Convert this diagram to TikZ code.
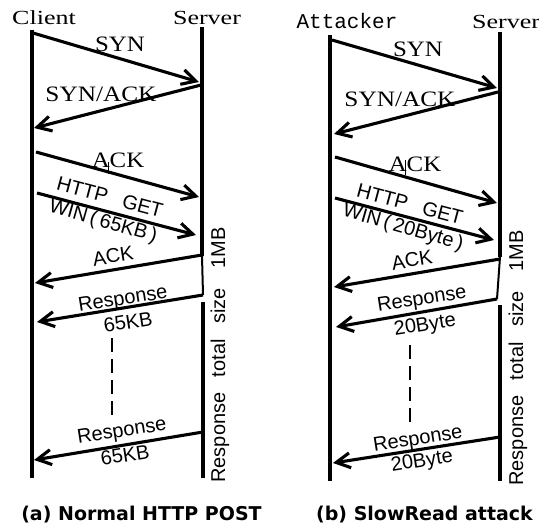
\documentclass[tikz,border=0pt]{standalone}
\usepackage{fontspec}
\setmainfont{Liberation Serif}
\setsansfont{Liberation Sans}
\setmonofont{Liberation Mono}
\newfontfamily\capfont{DejaVu Sans}
\usetikzlibrary{arrows.meta}

\begin{document}
\begin{tikzpicture}[x=1pt,y=-1pt,
  lifeline/.style={line width=4.4pt},
  thinlife/.style={line width=2pt},
  msg/.style={line width=3.1pt,-{Straight Barb[length=14pt,width=15pt]}},
  gapline/.style={line width=2.8pt,dash pattern=on 14pt off 7pt},
  tick/.style={line width=0.8pt},
  head/.style={font=\fontsize{20}{20}\selectfont\rmfamily,inner sep=0pt,anchor=base},
  monohead/.style={font=\fontsize{21}{21}\selectfont\ttfamily,inner sep=0pt,anchor=base},
  serlab/.style={font=\fontsize{22}{22}\selectfont\rmfamily,inner sep=0pt},
  sanlab/.style={font=\fontsize{20}{20}\selectfont\sffamily,inner sep=0pt},
  sidelab/.style={font=\fontsize{20}{20}\selectfont\sffamily,inner sep=0pt,rotate=90},
  caption/.style={font=\fontsize{19}{19}\selectfont\capfont\bfseries,inner sep=0pt}
]
\useasboundingbox (0,0) rectangle (539,527);
\fill[white] (0,0) rectangle (539,527);

% ---------- (a) normal exchange ----------
\node[head] (client) at (44,25) {\scalebox{1.3}[1]{Client}};
\node[head] (serverA) at (207,25) {\scalebox{1.3}[1]{Server}};

\coordinate (cl-top) at (32,30);   \coordinate (cl-bot) at (32,478);
\coordinate (sa-top) at (202,27);  \coordinate (sa-m1) at (202,256);
\coordinate (sa-m2) at (203,295);
\coordinate (sa-m3) at (203,302); \coordinate (sa-bot) at (203,478);
\draw[lifeline] (cl-top) -- (cl-bot);
\draw[lifeline] (sa-top) -- (sa-m1);
\draw[thinlife] (sa-m1) -- (sa-m2);
\draw[lifeline] (sa-m3) -- (sa-bot);

\coordinate (a1s) at (33,33);   \coordinate (a1e) at (199,82);
\coordinate (a2s) at (201,85);  \coordinate (a2e) at (34,128);
\coordinate (a3s) at (36,152);  \coordinate (a3e) at (199,197);
\coordinate (a4s) at (37,193);  \coordinate (a4e) at (196,235);
\coordinate (a5s) at (202,255); \coordinate (a5e) at (35,283);
\coordinate (a6s) at (203,295); \coordinate (a6e) at (37,322);
\coordinate (a7s) at (203,432); \coordinate (a7e) at (34,460);
\draw[msg] (a1s) -- (a1e);
\draw[msg] (a2s) -- (a2e);
\draw[msg] (a3s) -- (a3e);
\draw[msg] (a4s) -- (a4e);
\draw[msg] (a5s) -- (a5e);
\draw[msg] (a6s) -- (a6e);
\draw[msg] (a7s) -- (a7e);

\node[serlab] (a1l) at (120,44) {\scalebox{1.13}[1]{SYN}};
\node[serlab] (a2l) at (101,94) {\scalebox{1.15}[1]{SYN/ACK}};
\node[serlab] (a3l) at (118,160) {\scalebox{1.13}[1]{ACK}};
\coordinate (a3t1) at (108,162); \coordinate (a3t2) at (108,174);
\draw[tick] (a3t1) -- (a3t2);
\node[sanlab,rotate=-15] (a4l) at (110,197) {HTTP\hspace{0.5em} GET};
\node[sanlab,rotate=-16] (a4w) at (103,222) {WIN\,(\,65KB\,)};
\node[sanlab,rotate=9] (a5l) at (113,256) {ACK};
\node[sanlab,rotate=9] (a6l) at (123,300) {Response};
\node[sanlab,rotate=9] (a6w) at (128,322) {65KB};
\node[sanlab,rotate=9] (a7l) at (122,432) {Response};
\node[sanlab,rotate=9] (a7w) at (125,455) {65KB};

\coordinate (ad1) at (112,338); \coordinate (ad2) at (112,420);
\draw[gapline] (ad1) -- (ad2);

\node[sidelab] (atot) at (220,355) {Response\hspace{0.5em} total\hspace{0.5em} size\hspace{0.7em} 1MB};
\node[caption] (acap) at (141.5,515) {(a) Normal HTTP POST};

% ---------- (b) slow read ----------
\node[monohead] (attacker) at (347,29) {Attacker};
\node[head,anchor=base west] (serverB) at (472,29) {\scalebox{1.3}[1]{Server}};

\coordinate (at-top) at (330,35);  \coordinate (at-bot) at (330,481);
\coordinate (sb-top) at (500,32);  \coordinate (sb-m1) at (500,257);
\coordinate (sb-m2) at (497,299);
\coordinate (sb-m3) at (500,305); \coordinate (sb-bot) at (500,481);
\draw[lifeline] (at-top) -- (at-bot);
\draw[lifeline] (sb-top) -- (sb-m1);
\draw[thinlife] (sb-m1) -- (sb-m2);
\draw[lifeline] (sb-m3) -- (sb-bot);

\coordinate (b1s) at (332,40);  \coordinate (b1e) at (497,88);
\coordinate (b2s) at (498,92);  \coordinate (b2e) at (334,134);
\coordinate (b3s) at (335,157); \coordinate (b3e) at (497,203);
\coordinate (b4s) at (335,198); \coordinate (b4e) at (494,240);
\coordinate (b5s) at (500,259); \coordinate (b5e) at (334,287);
\coordinate (b6s) at (497,299); \coordinate (b6e) at (336,327);
\coordinate (b7s) at (500,437); \coordinate (b7e) at (333,463);
\draw[msg] (b1s) -- (b1e);
\draw[msg] (b2s) -- (b2e);
\draw[msg] (b3s) -- (b3e);
\draw[msg] (b4s) -- (b4e);
\draw[msg] (b5s) -- (b5e);
\draw[msg] (b6s) -- (b6e);
\draw[msg] (b7s) -- (b7e);

\node[serlab] (b1l) at (418,49) {\scalebox{1.13}[1]{SYN}};
\node[serlab] (b2l) at (400,99) {\scalebox{1.15}[1]{SYN/ACK}};
\node[serlab] (b3l) at (415,164) {\scalebox{1.13}[1]{ACK}};
\coordinate (b3t1) at (405,160); \coordinate (b3t2) at (405,175);
\draw[tick] (b3t1) -- (b3t2);
\node[sanlab,rotate=-15] (b4l) at (410,204) {HTTP\hspace{0.5em} GET};
\node[sanlab,rotate=-16] (b4w) at (403,228) {WIN\,(\,20Byte\,)};
\node[sanlab,rotate=9] (b5l) at (412,260) {ACK};
\node[sanlab,rotate=9] (b6l) at (422,300) {Response};
\node[sanlab,rotate=9] (b6w) at (425,326) {20Byte};
\node[sanlab,rotate=9] (b7l) at (418,440) {Response};
\node[sanlab,rotate=9] (b7w) at (422,462) {20Byte};

\coordinate (bd1) at (410,345); \coordinate (bd2) at (410,424);
\draw[gapline] (bd1) -- (bd2);

\node[sidelab] (btot) at (518,358) {Response\hspace{0.5em} total\hspace{0.5em} size\hspace{0.7em} 1MB};
\node[caption] (bcap) at (424.5,515) {(b) SlowRead attack};
\end{tikzpicture}
\end{document}
